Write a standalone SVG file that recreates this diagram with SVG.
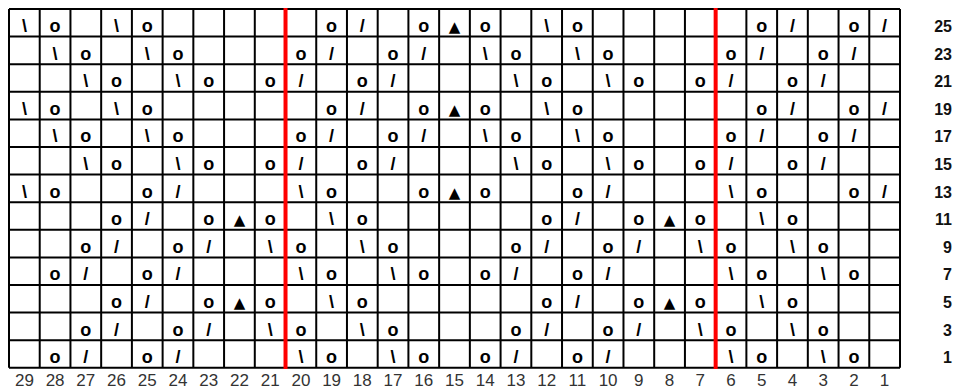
<svg xmlns="http://www.w3.org/2000/svg" width="960" height="391" viewBox="0 0 960 391">
<style>
.g{fill:none;stroke:#000;stroke-width:2}
.r{stroke:#f00;stroke-width:4}
.s{font:bold 18px "Liberation Sans",Arial,sans-serif;text-anchor:middle;fill:#000}
.t{font:15px "DejaVu Sans",sans-serif;text-anchor:middle;fill:#000}
.rl{font:bold 16px "Liberation Sans",Arial,sans-serif;text-anchor:end;fill:#111}
.cl{font:17px "Liberation Sans",Arial,sans-serif;text-anchor:middle;fill:#333}
</style>
<rect width="960" height="391" fill="#fff"/>
<g id="grid">
<path class="g" d="M9 9V367.8M39.72 9V367.8M70.45 9V367.8M101.17 9V367.8M131.9 9V367.8M162.62 9V367.8M193.34 9V367.8M224.07 9V367.8M254.79 9V367.8M285.52 9V367.8M316.24 9V367.8M346.96 9V367.8M377.69 9V367.8M408.41 9V367.8M439.14 9V367.8M469.86 9V367.8M500.58 9V367.8M531.31 9V367.8M562.03 9V367.8M592.76 9V367.8M623.48 9V367.8M654.2 9V367.8M684.93 9V367.8M715.65 9V367.8M746.38 9V367.8M777.1 9V367.8M807.82 9V367.8M838.55 9V367.8M869.27 9V367.8M900 9V367.8
M9 9H900M9 36.6H900M9 64.2H900M9 91.8H900M9 119.4H900M9 147H900M9 174.6H900M9 202.2H900M9 229.8H900M9 257.4H900M9 285H900M9 312.6H900M9 340.2H900M9 367.8H900"/>
<path class="r" d="M285.52 8V369M715.65 8V369"/>
</g>
<g id="symbols">
<g id="row25" transform="translate(0,9)">
<text class="s" x="24.4" y="23">\</text><text class="s" x="55.1" y="23">o</text><text class="s" x="116.5" y="23">\</text><text class="s" x="147.3" y="23">o</text><text class="s" x="331.6" y="23">o</text><text class="s" x="362.3" y="23">/</text><text class="s" x="423.8" y="23">o</text><text class="t" x="454.5" y="23">▲</text><text class="s" x="485.2" y="23">o</text><text class="s" x="546.7" y="23">\</text><text class="s" x="577.4" y="23">o</text><text class="s" x="761.7" y="23">o</text><text class="s" x="792.5" y="23">/</text><text class="s" x="853.9" y="23">o</text><text class="s" x="884.6" y="23">/</text>
</g>
<g id="row23" transform="translate(0,36.6)">
<text class="s" x="55.1" y="23">\</text><text class="s" x="85.8" y="23">o</text><text class="s" x="147.3" y="23">\</text><text class="s" x="178" y="23">o</text><text class="s" x="300.9" y="23">o</text><text class="s" x="331.6" y="23">/</text><text class="s" x="393" y="23">o</text><text class="s" x="423.8" y="23">/</text><text class="s" x="485.2" y="23">\</text><text class="s" x="515.9" y="23">o</text><text class="s" x="577.4" y="23">\</text><text class="s" x="608.1" y="23">o</text><text class="s" x="731" y="23">o</text><text class="s" x="761.7" y="23">/</text><text class="s" x="823.2" y="23">o</text><text class="s" x="853.9" y="23">/</text>
</g>
<g id="row21" transform="translate(0,64.2)">
<text class="s" x="85.8" y="23">\</text><text class="s" x="116.5" y="23">o</text><text class="s" x="178" y="23">\</text><text class="s" x="208.7" y="23">o</text><text class="s" x="270.2" y="23">o</text><text class="s" x="300.9" y="23">/</text><text class="s" x="362.3" y="23">o</text><text class="s" x="393" y="23">/</text><text class="s" x="515.9" y="23">\</text><text class="s" x="546.7" y="23">o</text><text class="s" x="608.1" y="23">\</text><text class="s" x="638.8" y="23">o</text><text class="s" x="700.3" y="23">o</text><text class="s" x="731" y="23">/</text><text class="s" x="792.5" y="23">o</text><text class="s" x="823.2" y="23">/</text>
</g>
<g id="row19" transform="translate(0,91.8)">
<text class="s" x="24.4" y="23">\</text><text class="s" x="55.1" y="23">o</text><text class="s" x="116.5" y="23">\</text><text class="s" x="147.3" y="23">o</text><text class="s" x="331.6" y="23">o</text><text class="s" x="362.3" y="23">/</text><text class="s" x="423.8" y="23">o</text><text class="t" x="454.5" y="23">▲</text><text class="s" x="485.2" y="23">o</text><text class="s" x="546.7" y="23">\</text><text class="s" x="577.4" y="23">o</text><text class="s" x="761.7" y="23">o</text><text class="s" x="792.5" y="23">/</text><text class="s" x="853.9" y="23">o</text><text class="s" x="884.6" y="23">/</text>
</g>
<g id="row17" transform="translate(0,119.4)">
<text class="s" x="55.1" y="23">\</text><text class="s" x="85.8" y="23">o</text><text class="s" x="147.3" y="23">\</text><text class="s" x="178" y="23">o</text><text class="s" x="300.9" y="23">o</text><text class="s" x="331.6" y="23">/</text><text class="s" x="393" y="23">o</text><text class="s" x="423.8" y="23">/</text><text class="s" x="485.2" y="23">\</text><text class="s" x="515.9" y="23">o</text><text class="s" x="577.4" y="23">\</text><text class="s" x="608.1" y="23">o</text><text class="s" x="731" y="23">o</text><text class="s" x="761.7" y="23">/</text><text class="s" x="823.2" y="23">o</text><text class="s" x="853.9" y="23">/</text>
</g>
<g id="row15" transform="translate(0,147)">
<text class="s" x="85.8" y="23">\</text><text class="s" x="116.5" y="23">o</text><text class="s" x="178" y="23">\</text><text class="s" x="208.7" y="23">o</text><text class="s" x="270.2" y="23">o</text><text class="s" x="300.9" y="23">/</text><text class="s" x="362.3" y="23">o</text><text class="s" x="393" y="23">/</text><text class="s" x="515.9" y="23">\</text><text class="s" x="546.7" y="23">o</text><text class="s" x="608.1" y="23">\</text><text class="s" x="638.8" y="23">o</text><text class="s" x="700.3" y="23">o</text><text class="s" x="731" y="23">/</text><text class="s" x="792.5" y="23">o</text><text class="s" x="823.2" y="23">/</text>
</g>
<g id="row13" transform="translate(0,174.6)">
<text class="s" x="24.4" y="23">\</text><text class="s" x="55.1" y="23">o</text><text class="s" x="147.3" y="23">o</text><text class="s" x="178" y="23">/</text><text class="s" x="300.9" y="23">\</text><text class="s" x="331.6" y="23">o</text><text class="s" x="423.8" y="23">o</text><text class="t" x="454.5" y="23">▲</text><text class="s" x="485.2" y="23">o</text><text class="s" x="577.4" y="23">o</text><text class="s" x="608.1" y="23">/</text><text class="s" x="731" y="23">\</text><text class="s" x="761.7" y="23">o</text><text class="s" x="853.9" y="23">o</text><text class="s" x="884.6" y="23">/</text>
</g>
<g id="row11" transform="translate(0,202.2)">
<text class="s" x="116.5" y="23">o</text><text class="s" x="147.3" y="23">/</text><text class="s" x="208.7" y="23">o</text><text class="t" x="239.4" y="23">▲</text><text class="s" x="270.2" y="23">o</text><text class="s" x="331.6" y="23">\</text><text class="s" x="362.3" y="23">o</text><text class="s" x="546.7" y="23">o</text><text class="s" x="577.4" y="23">/</text><text class="s" x="638.8" y="23">o</text><text class="t" x="669.6" y="23">▲</text><text class="s" x="700.3" y="23">o</text><text class="s" x="761.7" y="23">\</text><text class="s" x="792.5" y="23">o</text>
</g>
<g id="row9" transform="translate(0,229.8)">
<text class="s" x="85.8" y="23">o</text><text class="s" x="116.5" y="23">/</text><text class="s" x="178" y="23">o</text><text class="s" x="208.7" y="23">/</text><text class="s" x="270.2" y="23">\</text><text class="s" x="300.9" y="23">o</text><text class="s" x="362.3" y="23">\</text><text class="s" x="393" y="23">o</text><text class="s" x="515.9" y="23">o</text><text class="s" x="546.7" y="23">/</text><text class="s" x="608.1" y="23">o</text><text class="s" x="638.8" y="23">/</text><text class="s" x="700.3" y="23">\</text><text class="s" x="731" y="23">o</text><text class="s" x="792.5" y="23">\</text><text class="s" x="823.2" y="23">o</text>
</g>
<g id="row7" transform="translate(0,257.4)">
<text class="s" x="55.1" y="23">o</text><text class="s" x="85.8" y="23">/</text><text class="s" x="147.3" y="23">o</text><text class="s" x="178" y="23">/</text><text class="s" x="300.9" y="23">\</text><text class="s" x="331.6" y="23">o</text><text class="s" x="393" y="23">\</text><text class="s" x="423.8" y="23">o</text><text class="s" x="485.2" y="23">o</text><text class="s" x="515.9" y="23">/</text><text class="s" x="577.4" y="23">o</text><text class="s" x="608.1" y="23">/</text><text class="s" x="731" y="23">\</text><text class="s" x="761.7" y="23">o</text><text class="s" x="823.2" y="23">\</text><text class="s" x="853.9" y="23">o</text>
</g>
<g id="row5" transform="translate(0,285)">
<text class="s" x="116.5" y="23">o</text><text class="s" x="147.3" y="23">/</text><text class="s" x="208.7" y="23">o</text><text class="t" x="239.4" y="23">▲</text><text class="s" x="270.2" y="23">o</text><text class="s" x="331.6" y="23">\</text><text class="s" x="362.3" y="23">o</text><text class="s" x="546.7" y="23">o</text><text class="s" x="577.4" y="23">/</text><text class="s" x="638.8" y="23">o</text><text class="t" x="669.6" y="23">▲</text><text class="s" x="700.3" y="23">o</text><text class="s" x="761.7" y="23">\</text><text class="s" x="792.5" y="23">o</text>
</g>
<g id="row3" transform="translate(0,312.6)">
<text class="s" x="85.8" y="23">o</text><text class="s" x="116.5" y="23">/</text><text class="s" x="178" y="23">o</text><text class="s" x="208.7" y="23">/</text><text class="s" x="270.2" y="23">\</text><text class="s" x="300.9" y="23">o</text><text class="s" x="362.3" y="23">\</text><text class="s" x="393" y="23">o</text><text class="s" x="515.9" y="23">o</text><text class="s" x="546.7" y="23">/</text><text class="s" x="608.1" y="23">o</text><text class="s" x="638.8" y="23">/</text><text class="s" x="700.3" y="23">\</text><text class="s" x="731" y="23">o</text><text class="s" x="792.5" y="23">\</text><text class="s" x="823.2" y="23">o</text>
</g>
<g id="row1" transform="translate(0,340.2)">
<text class="s" x="55.1" y="23">o</text><text class="s" x="85.8" y="23">/</text><text class="s" x="147.3" y="23">o</text><text class="s" x="178" y="23">/</text><text class="s" x="300.9" y="23">\</text><text class="s" x="331.6" y="23">o</text><text class="s" x="393" y="23">\</text><text class="s" x="423.8" y="23">o</text><text class="s" x="485.2" y="23">o</text><text class="s" x="515.9" y="23">/</text><text class="s" x="577.4" y="23">o</text><text class="s" x="608.1" y="23">/</text><text class="s" x="731" y="23">\</text><text class="s" x="761.7" y="23">o</text><text class="s" x="823.2" y="23">\</text><text class="s" x="853.9" y="23">o</text>
</g>
</g>
<g id="row-labels">
<text class="rl" x="952" y="32">25</text><text class="rl" x="952" y="59.6">23</text><text class="rl" x="952" y="87.2">21</text><text class="rl" x="952" y="114.8">19</text><text class="rl" x="952" y="142.4">17</text><text class="rl" x="952" y="170">15</text><text class="rl" x="952" y="197.6">13</text><text class="rl" x="952" y="225.2">11</text><text class="rl" x="952" y="252.8">9</text><text class="rl" x="952" y="280.4">7</text><text class="rl" x="952" y="308">5</text><text class="rl" x="952" y="335.6">3</text><text class="rl" x="952" y="363.2">1</text>
</g>
<g id="column-labels">
<text class="cl" x="24.4" y="386">29</text><text class="cl" x="55.1" y="386">28</text><text class="cl" x="85.8" y="386">27</text><text class="cl" x="116.5" y="386">26</text><text class="cl" x="147.3" y="386">25</text><text class="cl" x="178" y="386">24</text><text class="cl" x="208.7" y="386">23</text><text class="cl" x="239.4" y="386">22</text><text class="cl" x="270.2" y="386">21</text><text class="cl" x="300.9" y="386">20</text><text class="cl" x="331.6" y="386">19</text><text class="cl" x="362.3" y="386">18</text><text class="cl" x="393" y="386">17</text><text class="cl" x="423.8" y="386">16</text><text class="cl" x="454.5" y="386">15</text><text class="cl" x="485.2" y="386">14</text><text class="cl" x="515.9" y="386">13</text><text class="cl" x="546.7" y="386">12</text><text class="cl" x="577.4" y="386">11</text><text class="cl" x="608.1" y="386">10</text><text class="cl" x="638.8" y="386">9</text><text class="cl" x="669.6" y="386">8</text><text class="cl" x="700.3" y="386">7</text><text class="cl" x="731" y="386">6</text><text class="cl" x="761.7" y="386">5</text><text class="cl" x="792.5" y="386">4</text><text class="cl" x="823.2" y="386">3</text><text class="cl" x="853.9" y="386">2</text><text class="cl" x="884.6" y="386">1</text>
</g>
</svg>
